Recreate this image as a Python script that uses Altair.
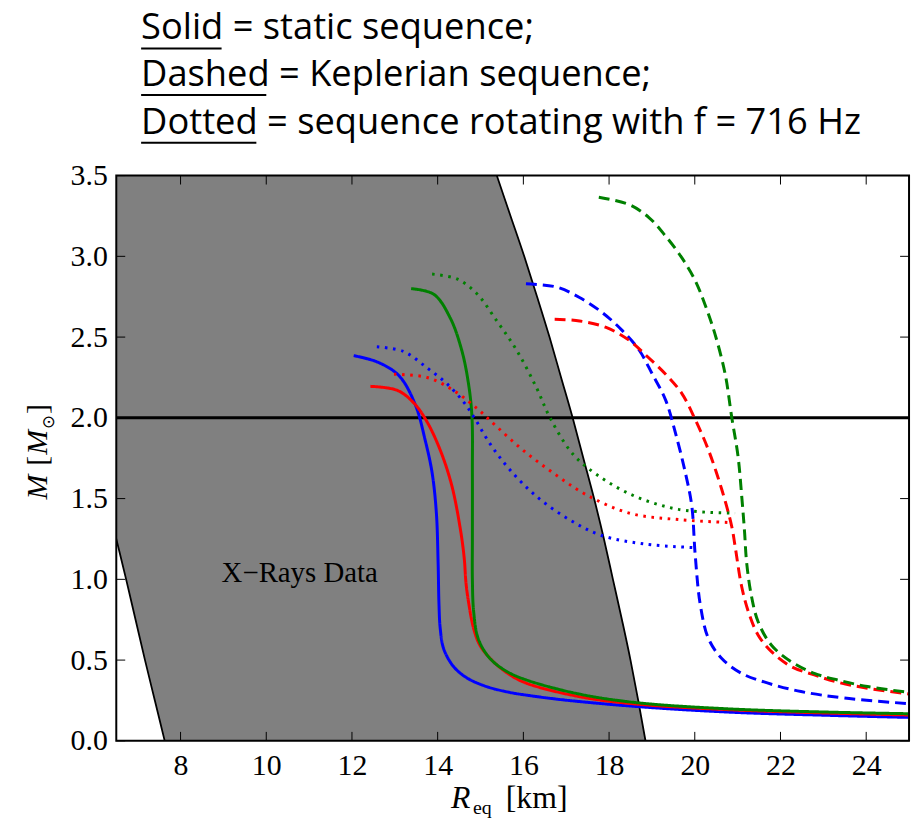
import altair as alt
import pandas as pd

# ---------------- data ----------------
x_ticks = [8, 10, 12, 14, 16, 18, 20, 22, 24]
y_ticks = [0.0, 0.5, 1.0, 1.5, 2.0, 2.5, 3.0, 3.5]

# X-ray constraint band (M levels, left and right radius boundaries)
xray_M = [0.0, 0.25, 0.5, 0.75, 1.0, 1.25, 1.5, 1.75, 2.0, 2.25, 2.5, 2.75, 3.0, 3.25, 3.5]
xray_left = [7.63, 7.40, 7.17, 6.95, 6.73, 6.50, 6.27, 6.04, 5.80, 5.57, 5.33, 5.09, 4.85, 4.62, 4.40]
xray_right = [18.85, 18.68, 18.50, 18.30, 18.09, 17.88, 17.65, 17.40, 17.15, 16.88, 16.61, 16.32, 16.02, 15.70, 15.38]

# static sequences (solid)
blue_static_R = [12.04, 12.6, 13.1, 13.48, 13.71, 13.87, 13.97, 14.01, 14.03, 14.06, 14.14, 14.37, 14.68, 15.14, 15.68, 16.07, 16.92, 18.62, 20.78, 23.1, 25.0]
blue_static_M = [2.385, 2.345, 2.26, 2.08, 1.86, 1.66, 1.41, 1.105, 0.85, 0.695, 0.57, 0.46, 0.39, 0.336, 0.30, 0.283, 0.254, 0.213, 0.178, 0.158, 0.145]
red_static_R = [12.43, 13.06, 13.45, 13.75, 14.06, 14.33, 14.53, 14.62, 14.66, 14.72, 14.84, 14.99, 15.3, 15.68, 16.07, 17.3, 18.62, 20.78, 23.1, 25.0]
red_static_M = [2.195, 2.17, 2.09, 1.976, 1.80, 1.58, 1.31, 1.13, 0.98, 0.86, 0.695, 0.59, 0.49, 0.41, 0.357, 0.274, 0.228, 0.193, 0.172, 0.16]
green_static_R = [13.38, 13.91, 14.29, 14.56, 14.72, 14.8, 14.81, 14.81, 14.81, 14.84, 14.95, 15.22, 15.61, 16.07, 17.3, 18.62, 20.78, 23.1, 25.0]
green_static_M = [2.80, 2.765, 2.62, 2.42, 2.21, 2.007, 1.66, 1.25, 1.0, 0.80, 0.63, 0.51, 0.43, 0.377, 0.29, 0.237, 0.198, 0.178, 0.168]

# Keplerian sequences (dashed)
blue_kep_R = [16.06, 16.77, 17.31, 17.85, 18.31, 18.7, 19.01, 19.32, 19.55, 19.78, 19.93, 20.01, 20.13, 20.32, 20.63, 21.09, 21.71, 22.48, 23.49, 25.0]
blue_kep_M = [2.83, 2.81, 2.745, 2.65, 2.54, 2.42, 2.27, 2.11, 1.905, 1.66, 1.455, 1.15, 0.84, 0.633, 0.51, 0.418, 0.357, 0.305, 0.265, 0.23]
red_kep_R = [16.73, 17.31, 17.93, 18.47, 18.85, 19.32, 19.7, 20.01, 20.32, 20.63, 20.86, 20.94, 21.09, 21.25, 21.48, 21.79, 22.25, 22.79, 23.33, 24.03, 25.0]
red_kep_M = [2.61, 2.60, 2.56, 2.48, 2.39, 2.27, 2.15, 1.99, 1.80, 1.556, 1.33, 1.207, 0.96, 0.80, 0.654, 0.552, 0.46, 0.408, 0.363, 0.326, 0.29]
green_kep_R = [17.76, 18.47, 18.93, 19.32, 19.7, 20.01, 20.24, 20.47, 20.71, 20.86, 21.01, 21.1, 21.16, 21.21, 21.32, 21.48, 21.79, 22.25, 22.79, 23.33, 24.03, 25.0]
green_kep_M = [3.366, 3.32, 3.24, 3.125, 2.99, 2.85, 2.70, 2.52, 2.27, 2.007, 1.76, 1.50, 1.30, 1.105, 0.90, 0.736, 0.592, 0.49, 0.418, 0.377, 0.336, 0.30]

# 716 Hz sequences (dotted)
blue_716_R = [12.58, 13.21, 13.75, 14.22, 14.6, 14.84, 15.22, 15.68, 16.3, 17.07, 17.81, 18.85, 19.95]
blue_716_M = [2.44, 2.41, 2.31, 2.21, 2.10, 2.007, 1.84, 1.68, 1.515, 1.37, 1.273, 1.218, 1.197]
red_716_R = [12.98, 13.75, 14.37, 14.91, 15.38, 15.99, 16.69, 17.46, 18.47, 19.62, 20.78]
red_716_M = [2.27, 2.25, 2.17, 2.06, 1.945, 1.80, 1.66, 1.525, 1.41, 1.37, 1.352]
green_716_R = [13.87, 14.45, 14.91, 15.38, 15.84, 16.3, 16.61, 17.08, 17.5, 18.47, 19.62, 20.94]
green_716_M = [2.89, 2.86, 2.77, 2.60, 2.42, 2.19, 2.007, 1.80, 1.69, 1.53, 1.433, 1.41]

eos_names = ["blue", "red", "green"]
eos_colors = ["#0000ff", "#ff0000", "#008000"]
styles = ["solid", "dashed", "dotted"]

title_words = ["Solid", "Dashed", "Dotted"]
title_rest = [" = static sequence;", " = Keplerian sequence;", " = sequence rotating with f = 716 Hz"]

# ---------------- build tables ----------------
series = [
    ("blue", "solid", blue_static_R, blue_static_M),
    ("red", "solid", red_static_R, red_static_M),
    ("green", "solid", green_static_R, green_static_M),
    ("blue", "dashed", blue_kep_R, blue_kep_M),
    ("red", "dashed", red_kep_R, red_kep_M),
    ("green", "dashed", green_kep_R, green_kep_M),
    ("blue", "dotted", blue_716_R, blue_716_M),
    ("red", "dotted", red_716_R, red_716_M),
    ("green", "dotted", green_716_R, green_716_M),
]
rows = []
for eos, sty, Rs, Ms in series:
    for i, (r, m) in enumerate(zip(Rs, Ms)):
        rows.append({"R": r, "M": m, "eos": eos, "style": sty, "idx": i, "key": eos + "_" + sty})
curves = pd.DataFrame(rows)
xray = pd.DataFrame({"M": xray_M, "left": xray_left, "right": xray_right})
one = pd.DataFrame({"a": [0]})

W, H = 798, 569
SERIF = "Liberation Serif"
SANS = "Open Sans"

xs = alt.Scale(domain=[6.5, 25], nice=False, zero=False)
ys = alt.Scale(domain=[0, 3.5], nice=False, zero=False)

# ---------------- layers ----------------
area = alt.Chart(xray).mark_area(orient="horizontal", color="#808080", opacity=1, clip=True,
                                 interpolate="monotone").encode(
    y=alt.Y("M:Q", scale=ys, axis=alt.Axis(values=y_ticks, format=".1f", title=None, labelPadding=9)),
    x=alt.X("left:Q", scale=xs, axis=alt.Axis(values=x_ticks, format="d", title=None, labelPadding=10)),
    x2="right:Q",
)
left_line = alt.Chart(xray).mark_line(color="black", strokeWidth=1.8, clip=True, interpolate="monotone").encode(
    x=alt.X("left:Q", scale=xs), y=alt.Y("M:Q", scale=ys), order="M:Q")
right_line = alt.Chart(xray).mark_line(color="black", strokeWidth=1.8, clip=True, interpolate="monotone").encode(
    x=alt.X("right:Q", scale=xs), y=alt.Y("M:Q", scale=ys), order="M:Q")

hline = alt.Chart(one).mark_rule(color="black", strokeWidth=3).encode(y=alt.datum(2.0, scale=ys))

lines = alt.Chart(curves).mark_line(strokeWidth=3, clip=True, interpolate="catmull-rom", strokeCap="butt").encode(
    x=alt.X("R:Q", scale=xs),
    y=alt.Y("M:Q", scale=ys),
    color=alt.Color("eos:N", scale=alt.Scale(domain=eos_names, range=eos_colors), legend=None),
    strokeDash=alt.StrokeDash("style:N", scale=alt.Scale(domain=styles, range=[[1, 0], [11, 6], [2.6, 5.6]]), legend=None),
    detail="key:N",
    order="idx:Q",
)

xr_lab = pd.DataFrame({"R": [10.78], "M": [1.04], "t": ["X\u2212Rays Data"]})
xr_text = alt.Chart(xr_lab).mark_text(font=SERIF, fontSize=29, align="center", baseline="middle", color="black").encode(
    x=alt.X("R:Q", scale=xs), y=alt.Y("M:Q", scale=ys), text="t:N")

xt = pd.DataFrame({"v": x_ticks})
yt = pd.DataFrame({"v": y_ticks})
tick_len = 9
bt = alt.Chart(xt).mark_rule(color="black", strokeWidth=1).encode(x=alt.X("v:Q", scale=xs), y=alt.value(H), y2=alt.value(H - tick_len))
tt = alt.Chart(xt).mark_rule(color="black", strokeWidth=1).encode(x=alt.X("v:Q", scale=xs), y=alt.value(0), y2=alt.value(tick_len))
lt = alt.Chart(yt).mark_rule(color="black", strokeWidth=1).encode(y=alt.Y("v:Q", scale=ys), x=alt.value(0), x2=alt.value(tick_len))
rt = alt.Chart(yt).mark_rule(color="black", strokeWidth=1).encode(y=alt.Y("v:Q", scale=ys), x=alt.value(W), x2=alt.value(W - tick_len))

frame = alt.Chart(one).mark_rect(fill="transparent", stroke="black", strokeWidth=2).encode(
    x=alt.value(0), x2=alt.value(W), y=alt.value(0), y2=alt.value(H))


def piece(text, px, py, size, font, style="normal", angle=0, align="left"):
    return alt.Chart(one).mark_text(text=text, font=font, fontSize=size, fontStyle=style, align=align,
                                    baseline="alphabetic", angle=angle, color="black").encode(
        x=alt.value(px), y=alt.value(py))


# title block (above plot)
title_layers = []
t_x = 25
t_base = [-137, -90, -42]
ul_len = [81, 126, 116]
for i in range(3):
    title_layers.append(piece(title_words[i] + title_rest[i], t_x, t_base[i], 36.5, SANS))
    title_layers.append(alt.Chart(one).mark_rule(color="black", strokeWidth=2).encode(
        x=alt.value(t_x), x2=alt.value(t_x + ul_len[i]), y=alt.value(t_base[i] + 9)))

# x axis title  R_eq [km]
xtitle = [
    piece("R", 337, 637, 32, SERIF, style="italic"),
    piece("eq", 359, 643, 20, SERIF),
    piece("[km]", 392, 637, 32, SERIF),
]
# y axis title  M [M_sun]
yb = -70
ytitle = [
    piece("M", yb, 326, 30, SERIF, style="italic", angle=270),
    piece("[", yb, 292, 30, SERIF, angle=270),
    piece("M", yb, 281, 30, SERIF, style="italic", angle=270),
    piece("\u2299", yb + 7, 255, 17, "DejaVu Sans", angle=270),
    piece("]", yb, 240, 30, SERIF, angle=270),
]

chart = alt.layer(
    area, left_line, right_line, hline, lines, xr_text, bt, tt, lt, rt, frame,
    *title_layers, *xtitle, *ytitle,
).properties(
    width=W, height=H,
    autosize=alt.AutoSizeParams(type="none"),
    padding={"left": 109, "top": 166, "right": 6, "bottom": 78},
    background="white",
).configure_view(stroke=None).configure_axis(
    grid=False, domain=False, ticks=False, tickSize=0,
    labelFont=SERIF, labelFontSize=30, labelColor="black",
)

chart.save("out.html", embed_options={"renderer": "svg", "actions": False})
